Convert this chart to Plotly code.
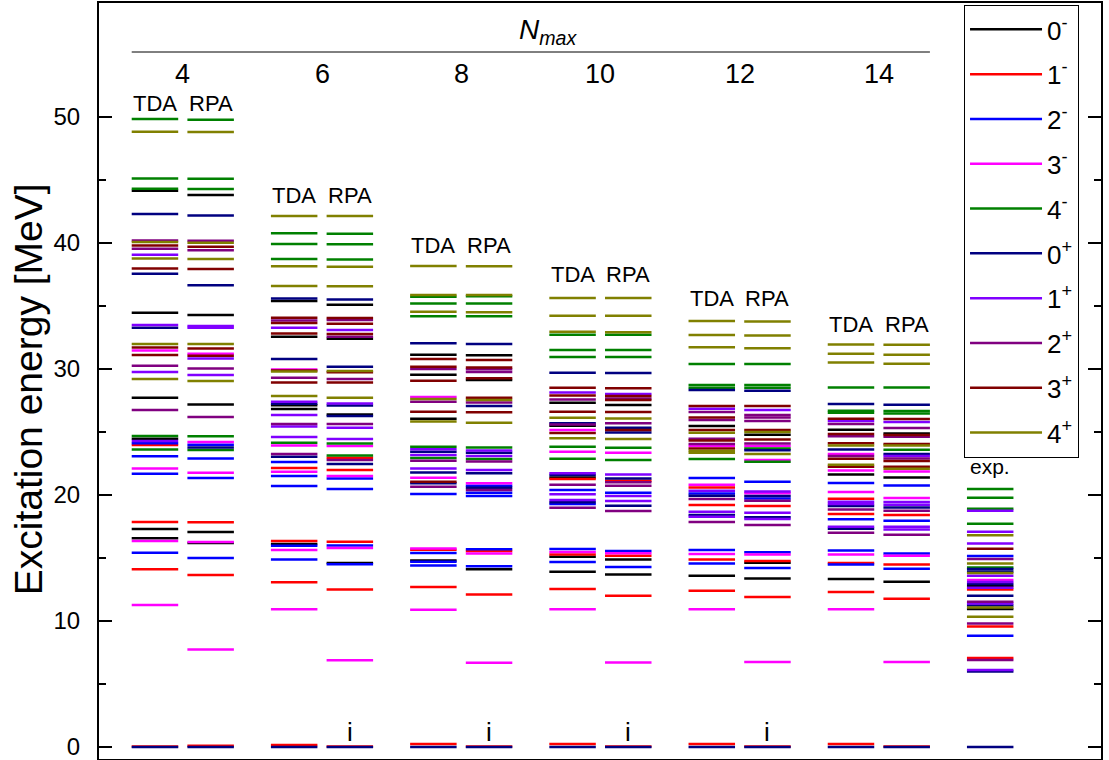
import plotly.graph_objects as go

# ---------------- data: (energy [MeV], J^pi) per column ----------------
TDA4 = [(49.84,'4-'),(48.83,'4+'),(45.13,'4-'),(44.3,'4-'),(44.15,'0-'),(42.3,'0+'),(40.2,'2+'),(40.08,'4+'),
        (39.8,'3+'),(39.55,'2+'),(39.07,'1+'),(38.78,'4+'),(37.98,'3+'),(37.56,'0+'),(34.47,'0-'),(33.49,'1+'),
        (33.28,'0+'),(31.98,'4+'),(31.7,'3+'),(31.48,'3-'),(31.11,'3+'),(30.26,'2+'),(29.76,'1+'),(29.21,'4+'),
        (27.73,'0-'),(26.75,'2+'),(24.68,'4-'),(24.47,'0-'),(24.29,'1+'),(24.1,'2-'),(23.97,'1-'),(23.62,'4-'),
        (23.07,'2-'),(22.11,'3-'),(21.69,'2-'),(17.86,'1-'),(17.3,'0-'),(16.56,'0-'),(16.35,'3-'),(15.42,'2-'),
        (14.1,'1-'),(11.27,'3-'),(0.05,'1-'),(0.0,'0+')]
RPA4 = [(49.79,'4-'),(48.81,'4+'),(45.1,'4-'),(44.29,'4-'),(43.81,'0-'),(42.18,'0+'),(40.18,'2+'),(40.02,'4+'),
        (39.71,'3+'),(39.42,'2+'),(38.73,'4+'),(37.94,'3+'),(36.64,'0+'),(34.29,'0-'),(33.41,'1+'),(33.28,'1+'),
        (31.98,'4+'),(31.63,'3+'),(31.22,'3-'),(31.06,'3+'),(30.84,'1+'),(30.04,'2+'),(29.52,'1+'),(29.05,'4+'),
        (27.18,'0-'),(26.19,'2+'),(24.66,'4-'),(24.21,'3-'),(23.99,'2-'),(23.78,'0+'),(23.57,'4-'),(22.9,'2-'),
        (21.77,'3-'),(21.35,'2-'),(17.83,'1-'),(17.06,'0-'),(16.2,'0-'),(16.27,'3-'),(15.0,'2-'),(13.65,'1-'),
        (7.75,'3-'),(0.1,'1-'),(0.0,'0+')]
TDA6 = [(42.14,'4+'),(40.77,'4-'),(39.92,'4-'),(38.73,'4-'),(38.15,'4+'),(36.59,'4+'),(35.6,'0+'),(35.4,'0-'),
        (34.07,'3+'),(33.85,'2+'),(33.65,'3+'),(33.28,'1+'),(32.81,'3+'),(32.56,'0-'),(30.79,'0+'),(29.97,'3-'),
        (29.88,'3+'),(29.81,'4+'),(29.31,'2+'),(28.94,'3+'),(27.86,'4+'),(27.41,'1+'),(27.25,'0+'),(27.12,'0-'),
        (26.83,'0-'),(26.35,'1+'),(25.63,'2+'),(25.44,'1+'),(24.6,'1+'),(24.15,'4-'),(23.94,'3-'),(23.25,'2+'),
        (23.04,'0+'),(22.62,'2-'),(22.14,'1-'),(21.85,'3-'),(21.51,'2-'),(20.71,'2-'),(16.35,'1-'),(16.11,'0-'),
        (15.98,'2-'),(15.63,'3-'),(14.88,'2-'),(13.07,'1-'),(10.93,'3-'),(0.16,'1-'),(0.0,'0+')]
RPA6 = [(42.14,'4+'),(40.74,'4-'),(39.9,'4-'),(38.7,'4-'),(38.12,'4+'),(36.56,'4+'),(35.52,'0+'),(35.1,'0-'),
        (34.05,'3+'),(33.89,'2+'),(33.6,'3+'),(33.1,'1+'),(32.78,'3+'),(32.56,'2+'),(32.4,'0-'),
        (30.18,'0+'),(29.85,'4+'),(29.75,'3+'),(29.21,'2+'),(28.93,'3+'),(27.73,'4+'),(27.27,'1+'),(27.11,'0+'),
        (26.39,'0-'),(26.27,'0+'),(25.63,'2+'),(25.34,'1+'),(24.44,'1+'),(24.09,'4-'),(23.9,'3-'),(23.14,'4-'),
        (22.96,'1-'),(22.78,'2+'),(22.46,'0+'),(21.98,'1-'),(21.51,'3-'),(21.32,'2-'),(20.48,'2-'),(16.3,'1-'),
        (16.0,'2-'),(15.8,'3-'),(14.6,'0-'),(14.5,'2-'),(12.5,'1-'),(6.88,'3-'),(0.05,'1-'),(0.0,'0+')]
TDA8 = [(38.17,'4+'),(35.87,'4+'),(35.74,'4-'),(35.21,'4-'),(34.55,'4+'),(34.18,'4-'),(32.04,'0+'),(31.14,'0-'),
        (30.79,'3+'),(30.18,'3+'),(30.0,'2+'),(29.55,'0-'),(29.07,'3+'),(27.78,'3-'),(27.62,'4+'),(27.41,'2+'),
        (26.61,'3+'),(26.06,'0-'),(25.84,'4+'),(23.84,'4-'),(23.63,'1+'),(23.44,'0+'),(23.17,'1+'),(22.94,'4-'),
        (22.72,'2+'),(22.11,'1+'),(21.79,'0+'),(21.37,'3-'),(21.06,'3+'),(20.93,'0+'),(20.66,'2+'),(20.08,'2-'),
        (15.75,'3-'),(15.65,'1-'),(15.4,'2-'),(14.8,'0-'),(14.7,'2-'),(14.4,'2-'),(12.7,'1-'),(10.9,'3-'),
        (0.24,'1-'),(0.0,'0+')]
RPA8 = [(38.15,'4+'),(35.87,'4+'),(35.78,'4-'),(35.21,'4-'),(34.5,'4+'),(34.18,'4-'),(31.98,'0+'),(31.09,'0-'),
        (30.71,'3+'),(30.13,'3+'),(29.98,'2+'),(29.76,'2+'),(29.26,'3+'),(29.13,'0-'),(27.73,'3+'),(27.54,'4+'),
        (27.35,'2+'),(27.06,'0+'),(26.56,'3+'),(25.74,'4+'),(23.78,'4-'),(23.54,'1+'),(23.36,'0+'),(23.1,'1+'),
        (22.86,'4-'),(22.66,'2+'),(21.98,'1+'),(21.72,'0+'),(20.93,'3-'),(20.74,'2-'),(20.58,'0+'),(20.4,'2+'),
        (20.18,'2-'),(19.92,'2-'),(15.7,'2-'),(15.55,'1-'),(15.35,'3-'),(14.35,'2-'),(14.1,'0-'),(12.1,'1-'),
        (6.69,'3-'),(0.05,'1-'),(0.0,'0+')]
TDA10 = [(35.63,'4+'),(34.23,'4+'),(32.96,'4+'),(32.73,'4-'),(31.51,'4-'),(30.95,'4-'),(29.71,'0+'),(28.52,'3+'),
         (28.13,'1+'),(27.89,'3+'),(27.59,'2+'),(27.33,'0-'),(26.61,'3+'),(26.14,'4+'),(25.69,'0+'),(25.6,'2+'),
         (25.5,'0-'),(25.16,'3-'),(24.92,'3+'),(24.5,'4+'),(23.84,'4-'),(23.44,'3-'),(22.88,'4-'),(21.72,'1+'),
         (21.59,'0+'),(21.4,'0-'),(21.27,'1-'),(20.82,'2+'),(20.4,'2-'),(20.06,'1+'),(19.6,'1+'),(19.42,'0+'),
         (19.29,'2-'),(18.99,'2+'),(15.71,'2-'),(15.48,'3-'),(15.29,'1-'),(15.1,'0-'),(14.68,'2-'),(13.92,'0-'),
         (12.54,'1-'),(10.93,'3-'),(0.24,'1-'),(0.0,'0+')]
RPA10 = [(35.63,'4+'),(34.23,'4+'),(32.91,'4+'),(32.73,'4-'),(31.51,'4-'),(30.95,'4-'),(29.68,'0+'),(28.47,'3+'),
         (28.02,'1+'),(27.86,'3+'),(27.67,'2+'),(27.54,'3+'),(27.14,'0-'),(26.59,'3+'),(26.08,'4+'),(25.69,'2+'),
         (25.34,'0+'),(25.16,'3+'),(24.97,'0+'),(24.44,'4+'),(23.75,'4-'),(23.36,'3-'),(22.78,'4-'),(21.63,'1+'),
         (21.32,'0+'),(21.14,'1-'),(21.01,'2+'),(20.74,'2+'),(20.18,'2-'),(19.92,'1+'),(19.52,'1+'),(19.15,'0+'),
         (18.73,'2+'),(15.56,'2-'),(15.37,'3-'),(15.18,'1-'),(14.89,'0-'),(14.29,'2-'),(13.69,'0-'),(12.0,'1-'),
         (6.7,'3-'),(0.05,'1-'),(0.0,'0+')]
TDA12 = [(33.81,'4+'),(32.7,'4+'),(31.72,'4+'),(30.4,'4-'),(28.73,'4-'),(28.52,'4-'),(28.33,'0+'),(27.06,'3+'),
         (26.85,'1+'),(26.59,'2+'),(26.16,'3+'),(25.95,'2+'),(25.48,'0-'),(25.16,'3+'),(24.95,'4+'),(24.47,'2+'),
         (24.33,'3+'),(24.05,'2+'),(23.89,'3-'),(23.7,'3+'),(23.52,'4+'),(23.36,'4+'),(22.86,'4-'),(21.35,'2-'),
         (20.82,'3-'),(20.6,'1-'),(20.34,'1+'),(20.12,'2-'),(19.94,'0+'),(19.68,'2+'),(19.21,'1-'),(18.68,'1+'),
         (18.41,'0+'),(18.28,'1+'),(17.86,'2+'),(15.63,'2-'),(15.32,'3-'),(14.89,'1-'),(14.56,'2-'),(13.6,'0-'),
         (12.41,'1-'),(10.93,'3-'),(0.24,'1-'),(0.0,'0+')]
RPA12 = [(33.78,'4+'),(32.67,'4+'),(31.64,'4+'),(30.4,'4-'),(28.73,'4-'),(28.52,'4-'),(28.28,'0+'),(27.06,'3+'),
         (26.75,'1+'),(26.35,'2+'),(26.15,'2+'),(25.87,'2+'),(25.16,'3+'),(25.0,'4+'),(24.79,'0-'),(24.4,'3+'),
         (24.08,'2+'),(23.9,'3-'),(23.7,'4-'),(23.55,'0+'),(23.25,'4+'),(22.78,'3-'),(22.65,'4-'),(21.06,'2-'),
         (20.29,'1+'),(20.15,'3-'),(19.92,'0+'),(19.72,'2-'),(19.54,'2+'),(19.13,'1-'),(18.6,'1+'),(18.23,'0+'),
         (18.1,'1+'),(17.62,'2+'),(15.45,'2-'),(15.29,'3-'),(14.76,'1-'),(14.63,'0-'),(14.21,'2-'),(13.37,'0-'),
         (11.9,'1-'),(6.75,'3-'),(0.05,'1-'),(0.0,'0+')]
TDA14 = [(31.95,'4+'),(31.21,'4+'),(30.52,'4+'),(28.53,'4-'),(27.22,'0+'),(26.69,'4-'),(26.53,'4-'),(26.06,'3+'),
         (25.87,'1+'),(25.63,'2+'),(25.19,'0-'),(24.84,'3+'),(24.66,'2+'),(24.1,'3+'),(23.94,'4+'),(23.62,'0+'),
         (23.25,'3-'),(23.1,'2+'),(22.88,'3+'),(22.41,'4+'),(22.25,'3+'),(21.94,'3-'),(21.63,'0-'),(20.95,'2-'),
         (20.24,'3-'),(19.71,'1-'),(19.47,'1+'),(19.29,'1+'),(19.13,'0+'),(18.86,'2+'),(18.49,'1-'),(18.07,'2-'),
         (17.48,'1+'),(17.33,'0+'),(17.01,'2+'),(15.6,'2-'),(15.29,'3-'),(14.6,'1-'),(14.48,'2-'),(13.33,'0-'),
         (12.3,'1-'),(10.93,'3-'),(0.24,'1-'),(0.0,'0+')]
RPA14 = [(31.93,'4+'),(31.14,'4+'),(30.42,'4+'),(28.53,'4-'),(27.17,'0+'),(26.67,'4-'),(26.48,'4-'),(26.03,'3+'),
         (25.79,'1+'),(25.32,'2+'),(24.89,'0-'),(24.76,'3+'),(24.63,'2+'),(24.05,'3+'),(23.94,'4+'),(23.6,'4-'),
         (23.25,'0+'),(23.1,'1+'),(22.9,'2+'),(22.7,'3+'),(22.25,'3+'),(22.09,'4+'),(21.87,'3-'),(21.4,'0-'),
         (20.76,'2-'),(19.76,'3-'),(19.44,'1+'),(19.23,'1+'),(19.02,'0+'),(18.75,'2+'),(18.41,'1-'),(17.96,'2-'),
         (17.48,'1+'),(17.27,'1+'),(16.85,'2+'),(15.35,'2-'),(15.19,'3-'),(14.48,'1-'),(14.15,'2-'),(13.12,'0-'),
         (11.77,'1-'),(6.75,'3-'),(0.05,'1-'),(0.0,'0+')]
EXP = [(20.48,'4-'),(19.79,'4-'),(18.91,'4-'),(18.76,'1+'),(17.72,'4-'),(17.09,'1+'),(16.8,'4+'),(16.15,'1+'),
       (15.74,'3+'),(15.16,'2-'),(14.92,'2+'),(14.56,'4+'),(14.25,'4-'),(14.13,'0+'),(13.94,'0+'),(13.81,'4+'),
       (13.6,'1+'),(13.25,'3-'),(13.1,'1+'),(12.94,'0+'),(12.78,'0-'),(12.65,'1+'),(12.51,'1-'),(12.0,'0+'),
       (11.53,'2+'),(11.39,'1+'),(11.23,'0+'),(11.07,'4+'),(10.95,'0-'),(10.34,'4+'),(9.81,'2+'),(9.56,'1-'),
       (8.83,'2-'),(7.06,'1-'),(6.9,'2+'),(6.11,'1+'),(6.0,'0+'),(0.0,'0+')]

NMAX = [4, 6, 8, 10, 12, 14]
TDA_COLS = [TDA4, TDA6, TDA8, TDA10, TDA12, TDA14]
RPA_COLS = [RPA4, RPA6, RPA8, RPA10, RPA12, RPA14]
SPINS = ['0-', '1-', '2-', '3-', '4-', '0+', '1+', '2+', '3+', '4+']
SPIN_LABELS = ['0<sup>-</sup>', '1<sup>-</sup>', '2<sup>-</sup>', '3<sup>-</sup>', '4<sup>-</sup>',
               '0<sup>+</sup>', '1<sup>+</sup>', '2<sup>+</sup>', '3<sup>+</sup>', '4<sup>+</sup>']
COLORS = ['#000000', '#FF0000', '#0000FF', '#FF00FF', '#008000',
          '#000080', '#8000FF', '#800080', '#800000', '#808000']
IMAG_NMAX = [6, 8, 10, 12]   # RPA columns with imaginary solutions ("i")

# ---------------- layout constants ----------------
RPA_OFF = 0.4
HW = 0.167
EXP_X = 6.0
FONT = 'Arial, Liberation Sans, sans-serif'

columns = []
for g, (t, r) in enumerate(zip(TDA_COLS, RPA_COLS)):
    columns.append((g, t))
    columns.append((g + RPA_OFF, r))
columns.append((EXP_X, EXP))

fig = go.Figure()
for spin, lab, col in zip(SPINS, SPIN_LABELS, COLORS):
    xs, ys = [], []
    for xc, levels in columns:
        for e, j in levels:
            if j == spin:
                xs += [xc - HW, xc + HW, None]
                ys += [e, e, None]
    fig.add_trace(go.Scatter(x=xs, y=ys, mode='lines', name=lab, legendgroup=spin,
                             line=dict(color=col, width=2.5), hoverinfo='skip'))

ann = []
label_y = [51.1, 43.8, 39.84, 37.54, 35.56, 33.57]
for g, n in enumerate(NMAX):
    ann.append(dict(x=g + RPA_OFF / 2, y=53.4, text=str(n), showarrow=False,
                    font=dict(size=27, color='black', family=FONT)))
    ann.append(dict(x=g, y=label_y[g], text='TDA', showarrow=False,
                    font=dict(size=22, color='black', family=FONT)))
    ann.append(dict(x=g + RPA_OFF, y=label_y[g], text='RPA', showarrow=False,
                    font=dict(size=22, color='black', family=FONT)))
    if n in IMAG_NMAX:
        ann.append(dict(x=g + RPA_OFF, y=1.2, text='i', showarrow=False,
                        font=dict(size=26, color='black', family=FONT)))
ann.append(dict(x=EXP_X, y=22.3, text='exp.', showarrow=False,
                font=dict(size=21, color='black', family=FONT)))
ann.append(dict(x=2.82, y=56.75, text='<i>N</i><sub><i>max</i></sub>', showarrow=False,
                font=dict(size=28, color='black', family=FONT)))
ann.append(dict(xref='paper', yref='paper', x=-0.0709, y=0.489, text='Excitation energy [MeV]',
                textangle=-90, showarrow=False, xanchor='center', yanchor='middle',
                font=dict(size=39, color='black', family=FONT)))

fig.update_layout(
    width=1109, height=760,
    margin=dict(l=99, r=8, t=3, b=1),
    paper_bgcolor='white', plot_bgcolor='white',
    font=dict(family=FONT, color='black'),
    annotations=ann,
    shapes=[dict(type='line', x0=-HW, x1=5 + RPA_OFF + HW, y0=55.16, y1=55.16,
                 line=dict(color='black', width=1))],
    legend=dict(x=0.8633, y=0.9974, xanchor='left', yanchor='top',
                bordercolor='black', borderwidth=1, bgcolor='white',
                font=dict(size=26, family=FONT, color='black'),
                itemwidth=72, tracegroupgap=8),
    showlegend=True,
)
fig.update_xaxes(range=[-0.402, 6.796], showgrid=False, zeroline=False,
                 showticklabels=False, ticks='', showline=True, linecolor='black',
                 linewidth=2, mirror=True)
fig.update_yaxes(range=[-0.95, 59.05], showgrid=False, zeroline=False,
                 tickvals=[0, 10, 20, 30, 40, 50], ticks='inside', ticklen=13, tickwidth=2,
                 tickcolor='black', showline=True, linecolor='black', linewidth=2, mirror='ticks',
                 tickfont=dict(size=24, family=FONT, color='black'), ticklabelstandoff=12,
                 ticklabeloverflow='allow',
                 minor=dict(tickvals=[5, 15, 25, 35, 45], ticks='inside', ticklen=7,
                            tickwidth=2, tickcolor='black'))

fig.write_html('out.html')
